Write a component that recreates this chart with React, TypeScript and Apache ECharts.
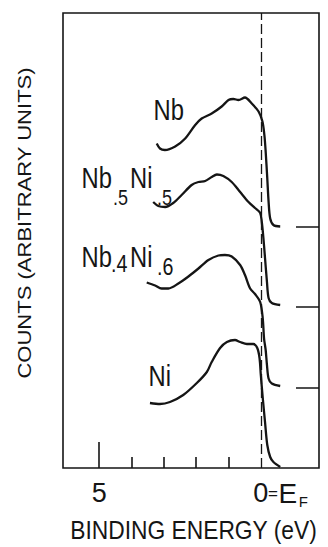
import React, { useEffect, useRef } from 'react';
import * as echarts from 'echarts';

const SANS = '"Liberation Sans", Arial, sans-serif';
const INK = '#151515';

// Binding energy (eV) and counts (arbitrary units) for each spectrum
const nbEnergy = [3.22, 3.12, 2.97, 2.65, 2.34, 2.03, 1.83, 1.52, 1.21, 1.0, 0.85, 0.69, 0.49, 0.28, 0.07, -0.05, -0.11, -0.15, -0.2, -0.24, -0.29, -0.39, -0.6];
const nbCounts = [83, 78, 76.5, 80, 88, 101.5, 108, 113, 120, 126.5, 127.5, 126.5, 129, 123, 115, 105, 91.5, 75, 48, 25, 8, 1.5, 0];

const nb5ni5Energy = [3.33, 3.17, 2.96, 2.71, 2.45, 2.14, 1.93, 1.72, 1.52, 1.36, 1.16, 0.9, 0.64, 0.38, 0.18, 0.02, -0.03, -0.08, -0.13, -0.19, -0.24, -0.34, -0.6];
const nb5ni5Counts = [105, 101, 100, 104, 112, 122, 125, 126, 130, 132.5, 131, 125, 115, 105, 99, 94, 85, 69, 49, 25, 9, 4, 2];

const nb4ni6Energy = [3.53, 3.27, 3.07, 2.86, 2.55, 2.24, 1.93, 1.62, 1.31, 1.11, 0.9, 0.64, 0.49, 0.33, 0.18, 0.02, -0.06, -0.1, -0.15, -0.19, -0.24, -0.34, -0.6];
const nb4ni6Counts = [105, 102, 99, 99, 104, 111, 119, 127.5, 132, 132.5, 131, 122.5, 112.5, 99, 93.5, 85.5, 69, 49, 37.5, 22.5, 9, 4, 1.5];

const niEnergy = [3.43, 3.12, 2.81, 2.4, 1.98, 1.67, 1.52, 1.26, 1.05, 0.8, 0.64, 0.43, 0.23, 0.11, 0.04, 0.0, -0.06, -0.13, -0.2, -0.29, -0.39, -0.6];
const niCounts = [65, 64, 66, 73, 85, 96, 106, 120, 126, 128, 126, 124, 124, 120, 110, 93, 70, 46, 23, 11, 6, 1];

// vertical offsets of the stacked spectra (baselines)
const nbOffset = 241.5;
const nb5ni5Offset = 161;
const nb4ni6Offset = 80.5;
const niOffset = 0;
const baselineTicks = [nb4ni6Offset, nb5ni5Offset, nbOffset];

const xMajorTicks = [5];
const xMinorTicks = [4, 3, 2, 1];
const xTickLabels = [5, 0];
const fermiLevel = 0;

const xMin = -1.8;
const xMax = 6.12;
const yMax = 455;

function toData(e: number[], c: number[], off: number) {
  return e.map((x, i) => [x, c[i] + off]);
}

export default function App() {
  const ref = useRef<HTMLDivElement>(null);
  useEffect(() => {
    if (!ref.current) return;
    const chart = echarts.init(ref.current, null, { renderer: 'svg' });
    const grid = { left: 63, right: 9, top: 13, bottom: 79, outerBoundsMode: 'none' };
    const lineCommon = {
      type: 'line',
      xAxisIndex: 0,
      yAxisIndex: 0,
      symbol: 'none',
      showSymbol: false,
      smooth: 0.3,
      lineStyle: { color: INK, width: 2.3 },
      silent: true,
    };
    const NARROW_SCALE = 0.82;
    const txt = (text: string, x: number, y: number, size: number) => ({
      type: 'text',
      x,
      y,
      scaleX: NARROW_SCALE,
      silent: true,
      style: {
        text,
        font: `${size}px ${SANS}`,
        fill: INK,
        textAlign: 'left',
        textVerticalAlign: 'middle',
      },
    });
    const tickAxis = (gridIndex: number, values: number[], length: number) => ({
      type: 'value',
      gridIndex,
      inverse: true,
      min: xMin,
      max: xMax,
      position: 'bottom',
      axisLine: { show: false, onZero: false },
      splitLine: { show: false },
      axisLabel: { show: false },
      axisTick: { show: true, inside: true, interval: 0, length, customValues: values, lineStyle: { color: INK, width: 1.6 } },
    });
    chart.setOption({
      animation: false,
      backgroundColor: '#fff',
      grid: [
        { ...grid, show: true, borderColor: INK, borderWidth: 1.6 },
        { ...grid, show: false },
        { ...grid, show: false },
      ],
      xAxis: [
        {
          type: 'value',
          gridIndex: 0,
          inverse: true,
          min: xMin,
          max: xMax,
          position: 'bottom',
          axisLine: { show: false, onZero: false },
          splitLine: { show: false },
          axisTick: { show: false },
          axisLabel: {
            show: true,
            customValues: xTickLabels,
            margin: 9,
            formatter: (v: number) => (v === 5 ? '{n|5}' : '{pad|}{n|0}{eq|=}{e|E}{f|F}'),
            rich: {
              n: { fontSize: 27, lineHeight: 32, fontFamily: SANS, color: INK },
              pad: { width: 40.5, lineHeight: 32 },
              eq: { fontSize: 17, width: 9.5, lineHeight: 32, fontFamily: SANS, color: INK },
              e: { fontSize: 28, width: 20, lineHeight: 32, fontFamily: SANS, color: INK },
              f: { fontSize: 15, width: 11, lineHeight: 15, padding: [17, 0, 0, 0], verticalAlign: 'top', fontFamily: SANS, color: INK },
            },
          },
        },
        tickAxis(1, xMajorTicks, 26),
        tickAxis(2, xMinorTicks, 11),
      ],
      yAxis: [
        {
          type: 'value',
          gridIndex: 0,
          min: 0,
          max: yMax,
          position: 'right',
          axisLine: { show: false, onZero: false },
          splitLine: { show: false },
          axisLabel: { show: false },
          axisTick: { show: true, inside: true, length: 23, customValues: baselineTicks, lineStyle: { color: INK, width: 1.5 } },
        },
        { type: 'value', gridIndex: 1, min: 0, max: yMax, show: false },
        { type: 'value', gridIndex: 2, min: 0, max: yMax, show: false },
      ],
      series: [
        {
          ...lineCommon,
          name: 'Nb',
          data: toData(nbEnergy, nbCounts, nbOffset),
          markLine: {
            silent: true,
            symbol: ['none', 'none'],
            label: { show: false },
            lineStyle: { type: [10, 4], color: INK, width: 1.3 },
            data: [{ xAxis: fermiLevel }],
          },
        },
        { ...lineCommon, name: 'Nb.5 Ni.5', data: toData(nb5ni5Energy, nb5ni5Counts, nb5ni5Offset) },
        { ...lineCommon, name: 'Nb.4 Ni.6', data: toData(nb4ni6Energy, nb4ni6Counts, nb4ni6Offset) },
        { ...lineCommon, name: 'Ni', data: toData(niEnergy, niCounts, niOffset) },
      ],
      graphic: [
        txt('Nb', 153.5, 110.5, 29),
        txt('Nb', 81.5, 178, 29),
        txt('.5', 113, 197, 22),
        txt('Ni', 130, 178, 29),
        txt('.5', 157, 197, 22),
        txt('Nb', 81.5, 257.5, 29),
        txt('.4', 111, 264, 24),
        txt('Ni', 130, 257.5, 29),
        txt('.6', 157, 267, 24),
        txt('Ni', 148.5, 376, 29),
        {
          type: 'text',
          x: 193.5,
          y: 530,
          scaleX: 0.877,
          silent: true,
          style: { text: 'BINDING ENERGY (eV)', font: `26px ${SANS}`, fill: INK, textAlign: 'center', textVerticalAlign: 'middle' },
        },
        {
          type: 'text',
          x: 24,
          y: 223,
          rotation: Math.PI / 2,
          scaleX: 1.16,
          silent: true,
          style: { text: 'COUNTS (ARBITRARY UNITS)', font: `19px ${SANS}`, fill: INK, textAlign: 'center', textVerticalAlign: 'middle' },
        },
      ],
    });
    return () => chart.dispose();
  }, []);
  return (
    <div
      ref={ref}
      style={{ position: 'fixed', left: 0, top: 0, width: 328, height: 547, background: '#fff' }}
    />
  );
}
